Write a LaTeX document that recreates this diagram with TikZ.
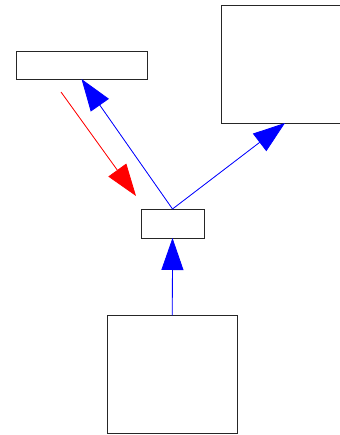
\documentclass[tikz,border=0pt]{standalone}
\usetikzlibrary{arrows.meta,calc}
\begin{document}
\begin{tikzpicture}[x=1pt,y=-1pt,
  box/.style={draw=black!85,line width=0.9pt,fill=white,inner sep=0pt,outer sep=0pt},
  bigtip/.style={-{Triangle[length=32pt,width=22pt]}},
  bluearrow/.style={bigtip,draw=blue,fill=blue,line width=0.8pt},
  redarrow/.style={bigtip,draw=red,fill=red,line width=0.8pt}]
\useasboundingbox (0,0) rectangle (339,435);
\node[box,minimum width=131pt,minimum height=28pt] (A) at (81.5,65) {};
\node[box,minimum width=124pt,minimum height=118pt] (B) at (283,64) {};
\node[box,minimum width=63pt,minimum height=29pt] (C) at (172.5,223.5) {};
\node[box,minimum width=130pt,minimum height=118pt] (D) at (172.3,374.3) {};
\coordinate (r1) at (61,92);
\coordinate (r2) at (136,196);
\draw[bluearrow] (C.north) -- (A.south);
\draw[bluearrow] (C.north) -- ($(B.south west)+(64,0)$);
\draw[bluearrow] (D.north) -- (C.south);
\draw[redarrow] (r1) -- (r2);
\end{tikzpicture}
\end{document}
